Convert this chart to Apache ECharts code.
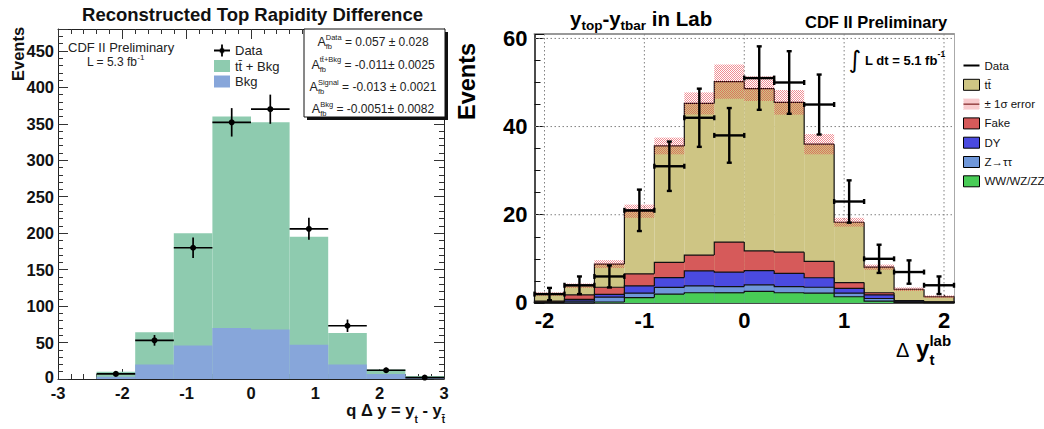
<!DOCTYPE html>
<html><head><meta charset="utf-8">
<script src="https://cdn.jsdelivr.net/npm/echarts@6/dist/echarts.min.js"></script>
<style>html,body{margin:0;padding:0;background:#fff}#c{width:1044px;height:429px}</style>
</head><body><div id="c"></div>
<script>
// ---------------- Left panel data ----------------
const leftEdges = [-2.4, -1.8, -1.2, -0.6, 0, 0.6, 1.2, 1.8, 2.4, 3.0];
const leftTotal = [10, 64, 200, 360, 352, 195, 63, 13, 4];      // tt + Bkg
const leftBkg   = [3, 20, 46, 70, 68, 47, 20, 7, 2];             // Bkg
const leftData  = [7, 53, 180, 352, 370, 206, 73, 12, 2];
const leftErr   = [2.6, 7.3, 14, 19.5, 20, 15, 8.5, 3.5, 1.4];
const leftYLabels = [0, 50, 100, 150, 200, 250, 300, 350, 400, 450];
const statNames = ['Data', 'tt\u0304+Bkg', 'Signal', 'Bkg'];
const statVals  = ['= 0.057 \u00b1 0.028', '= -0.011\u00b1 0.0025', '= -0.013 \u00b1 0.0021', '= -0.0051\u00b1 0.0082'];

// ---------------- Right panel data ----------------
const rightEdges = [-2.1, -1.8, -1.5, -1.2, -0.9, -0.6, -0.3, 0, 0.3, 0.6, 0.9, 1.2, 1.5, 1.8, 2.1];
const rightTT   = [1.6, 2.1, 5.25, 14.2, 26.4, 34.4, 36.4, 36.8, 34.0, 26.6, 13.7, 5.8, 2.6, 1.15];
const rightFake = [0.2, 1.0, 1.6, 2.75, 3.45, 3.6, 6.8, 4.5, 4.8, 3.7, 1.3, 0.5, 0.1, 0.05];
const rightDY   = [0.1, 0.4, 0.65, 1.65, 2.25, 3.4, 3.3, 3.2, 3.0, 2.15, 1.1, 0.8, 0.2, 0.1];
const rightZtt  = [0.1, 0.4, 1.1, 1.0, 1.5, 1.55, 1.4, 1.5, 1.4, 1.35, 0.8, 0.6, 0.1, 0.05];
const rightWW   = [0, 0, 0.2, 1.2, 2.0, 2.3, 2.3, 2.6, 2.3, 2.2, 1.4, 0.4, 0.1, 0.05];
const rightBand = [0.4, 0.5, 0.9, 1.5, 1.9, 2.5, 3.9, 2.8, 2.8, 2.3, 1.0, 0.6, 0.4, 0.3];
const rightData = [2, 4, 6, 21, 31, 42, 38, 51, 50, 45, 23, 10, 7, 4];
const rightDataErr = [1.4, 2.0, 2.5, 4.7, 5.6, 6.6, 6.2, 7.2, 7.1, 6.8, 4.8, 3.2, 2.65, 2.0];
const rightXTicks = [-2, -1, 0, 1, 2];
const rightYTicks = [0, 20, 40, 60];
const rightGridY  = [20, 40, 60];

// ---------------- styling ----------------
const FF = '"Liberation Sans", Arial, Helvetica, sans-serif';
const greenL = '#8ecbaf', blueL = '#87a6da';
const tanC = '#cec584', fakeC = '#d65a5a', dyC = '#4a4ae0', zttC = '#6f97d9', wwC = '#48cc56';

function mkCanvas(w, h, draw) { const c = document.createElement('canvas'); c.width = w; c.height = h; draw(c.getContext('2d')); return c.toDataURL(); }
const hatchURL = mkCanvas(2, 2, g => { g.fillStyle = 'rgba(228,50,60,0.55)'; g.fillRect(0, 0, 1, 1); g.fillRect(1, 1, 1, 1); });
const hatch = { image: hatchURL, repetition: 'repeat' };
const leftDataIcon = 'image://' + mkCanvas(16, 12, g => { g.strokeStyle = '#000'; g.lineWidth = 1.8; g.beginPath(); g.moveTo(0, 6); g.lineTo(16, 6); g.moveTo(8, 0); g.lineTo(8, 12); g.stroke(); g.beginPath(); g.arc(8, 6, 2.6, 0, 7); g.fillStyle = '#000'; g.fill(); });
const rightDataIcon = 'image://' + mkCanvas(16, 11, g => { g.fillStyle = '#000'; g.fillRect(0, 4.5, 16, 2); });
const bandIcon = 'image://' + mkCanvas(16, 11, g => { g.fillStyle = 'rgba(228,50,60,0.5)'; for (let x = 0; x < 16; x++) for (let y = 0; y < 11; y++) if ((x + y) % 2 === 0) g.fillRect(x, y, 1, 1); g.fillStyle = '#600'; g.fillRect(0, 5, 16, 1); });

// cumulative tops for the right stack (ROOT THStack style)
const cWW = rightWW.slice();
const cZtt = cWW.map((v, i) => v + rightZtt[i]);
const cDY = cZtt.map((v, i) => v + rightDY[i]);
const cFake = cDY.map((v, i) => v + rightFake[i]);
const cTot = cFake.map((v, i) => v + rightTT[i]);

function stepSeries(name, xi, yi, edges, tops, color, z, outline) {
  const data = tops.map((t, i) => [edges[i], edges[i + 1], 0, t, i > 0 ? tops[i - 1] : 0, i === tops.length - 1 ? 1 : 0]);
  return {
    type: 'custom', name, xAxisIndex: xi, yAxisIndex: yi, z, silent: true, itemStyle: { color },
    encode: { x: [0, 1], y: [2, 3] },
    renderItem(params, api) {
      const x0 = api.value(0), x1 = api.value(1), y0 = api.value(2), y1 = api.value(3), prev = api.value(4), last = api.value(5);
      const a = api.coord([x0, y1]), b = api.coord([x1, y0]);
      const ch = [{ type: 'rect', shape: { x: a[0], y: a[1], width: b[0] - a[0], height: b[1] - a[1] }, style: { fill: color } }];
      if (outline) {
        const p = api.coord([x0, prev]);
        const pts = [[a[0], p[1]], [a[0], a[1]], [b[0], a[1]]];
        if (last) pts.push([b[0], b[1]]);
        ch.push({ type: 'polyline', shape: { points: pts }, style: { fill: null, stroke: '#111', lineWidth: 1.2 } });
      }
      return { type: 'group', children: ch };
    },
    data
  };
}

function bandSeries(name, xi, yi, edges, center, err, z) {
  const data = center.map((c, i) => [edges[i], edges[i + 1], c - err[i], c + err[i]]);
  return {
    type: 'custom', name, xAxisIndex: xi, yAxisIndex: yi, z, silent: true, itemStyle: { color: '#f0a0a0' },
    encode: { x: [0, 1], y: [2, 3] },
    renderItem(params, api) {
      const a = api.coord([api.value(0), api.value(3)]), b = api.coord([api.value(1), api.value(2)]);
      return { type: 'rect', shape: { x: a[0], y: a[1], width: b[0] - a[0], height: b[1] - a[1] }, style: { fill: hatch } };
    },
    data
  };
}

function crossSeries(name, xi, yi, edges, vals, errs, o, z) {
  const data = vals.map((v, i) => [edges[i], edges[i + 1], v, errs[i]]);
  return {
    type: 'custom', name, xAxisIndex: xi, yAxisIndex: yi, z, silent: true, itemStyle: { color: '#000' },
    encode: { x: [0, 1], y: 2 },
    renderItem(params, api) {
      const x0 = api.value(0), x1 = api.value(1), v = api.value(2), e = api.value(3), xc = (x0 + x1) / 2;
      const L = api.coord([x0, v]), R = api.coord([x1, v]), T = api.coord([xc, v + e]), B = api.coord([xc, v - e]);
      const st = { stroke: '#000', lineWidth: o.lw, fill: null };
      const ch = [
        { type: 'line', shape: { x1: L[0], y1: L[1], x2: R[0], y2: R[1] }, style: st },
        { type: 'line', shape: { x1: T[0], y1: T[1], x2: B[0], y2: B[1] }, style: st }
      ];
      if (o.cap) {
        const c = o.cap;
        ch.push({ type: 'line', shape: { x1: L[0], y1: L[1] - c, x2: L[0], y2: L[1] + c }, style: st });
        ch.push({ type: 'line', shape: { x1: R[0], y1: R[1] - c, x2: R[0], y2: R[1] + c }, style: st });
        ch.push({ type: 'line', shape: { x1: T[0] - c, y1: T[1], x2: T[0] + c, y2: T[1] }, style: st });
        ch.push({ type: 'line', shape: { x1: B[0] - c, y1: B[1], x2: B[0] + c, y2: B[1] }, style: st });
      }
      if (o.dot) ch.push({ type: 'circle', shape: { cx: (L[0] + R[0]) / 2, cy: L[1], r: o.dot }, style: { fill: '#000' } });
      return { type: 'group', children: ch };
    },
    data
  };
}

function gridSeries(xi, yi, xs, ys, z) {
  const data = xs.map(v => [v, 0, 0]).concat(ys.map(v => [0, v, 1]));
  return {
    type: 'custom', name: 'grid', xAxisIndex: xi, yAxisIndex: yi, z, silent: true,
    encode: { x: 0, y: 1 },
    renderItem(params, api) {
      const cs = params.coordSys, p = api.coord([api.value(0), api.value(1)]);
      const st = { stroke: '#808080', lineWidth: 1, lineDash: [1.5, 2.5], fill: null };
      if (api.value(2) === 0) return { type: 'line', shape: { x1: p[0], y1: cs.y, x2: p[0], y2: cs.y + cs.height }, style: st };
      return { type: 'line', shape: { x1: cs.x, y1: p[1], x2: cs.x + cs.width, y2: p[1] }, style: st };
    },
    data
  };
}

// ---------------- text helpers ----------------
const mctx = document.createElement('canvas').getContext('2d');
function tw(t, s, w, fam) { mctx.font = (w || 'normal') + ' ' + s + 'px ' + (fam || FF); return mctx.measureText(t).width; }
function txt(x, y, t, s, w, o) {
  o = o || {};
  return { type: 'text', x, y, z: 20, silent: true, rotation: o.rot || 0,
    style: { text: t, fontSize: s, fontWeight: w || 'normal', fontFamily: o.fam || FF, fill: o.color || '#000', textAlign: o.align || 'left', textVerticalAlign: 'middle' } };
}
function run(x, y, parts, align) {
  const widths = parts.map(p => p.sup !== undefined ? Math.max(tw(p.sup, p.s, p.w, p.fam), tw(p.sub, p.s, p.w, p.fam)) : tw(p.t, p.s, p.w, p.fam));
  const total = widths.reduce((a, b) => a + b, 0) + parts.reduce((a, p) => a + (p.gap || 0), 0);
  let cx = align === 'right' ? x - total : align === 'center' ? x - total / 2 : x;
  const out = [];
  parts.forEach((p, i) => {
    const o = { fam: p.fam, color: p.color };
    if (p.sup !== undefined) { out.push(txt(cx, y + p.dySup, p.sup, p.s, p.w, o)); out.push(txt(cx, y + p.dySub, p.sub, p.s, p.w, o)); }
    else out.push(txt(cx, y + (p.dy || 0), p.t, p.s, p.w, o));
    cx += widths[i] + (p.gap || 0);
  });
  return out;
}

const graphics = [];
// left panel texts
graphics.push(txt(252.5, 14.5, 'Reconstructed Top Rapidity Difference', 18.5, 'bold', { align: 'center', color: '#111' }));
graphics.push(txt(17.5, 54, 'Events', 16.5, 'bold', { align: 'center', rot: Math.PI / 2, color: '#111' }));
graphics.push(txt(68, 47, 'CDF II Preliminary', 13, 'normal', { color: '#222' }));
graphics.push(...run(87, 62, [{ t: 'L = 5.3 fb', s: 12, color: '#222' }, { t: '-1', s: 8, dy: -5, color: '#222' }]));
graphics.push({ type: 'rect', z: 15, silent: true, shape: { x: 307, y: 32, width: 141, height: 88 }, style: { fill: '#111' } });
graphics.push({ type: 'rect', z: 16, silent: true, shape: { x: 304, y: 29, width: 141, height: 88 }, style: { fill: '#fff', stroke: '#111', lineWidth: 1 } });
const statY = [42, 64.5, 87, 109];
statNames.forEach((n, i) => {
  graphics.push(...run(373, statY[i], [
    { t: 'A', s: 12.5, color: '#222' },
    { sup: n, sub: 'fb', s: 7.5, dySup: -5, dySub: 4.5, color: '#222' },
    { t: ' ' + statVals[i], s: 12, color: '#222' }
  ], 'center'));
});
graphics.push(...run(445, 410, [
  { t: 'q \u0394 y = y', s: 16.5, w: 'bold', color: '#111' },
  { t: 't', s: 10, w: 'bold', dy: 9, color: '#111' },
  { t: ' - y', s: 16.5, w: 'bold', color: '#111' },
  { t: 't\u0304', s: 10, w: 'bold', dy: 9, color: '#111' }
], 'right'));
// right panel texts
graphics.push(...run(570, 18, [
  { t: 'y', s: 20.5, w: 'bold' }, { t: 'top', s: 13.5, w: 'bold', dy: 7 },
  { t: '-y', s: 20.5, w: 'bold' }, { t: 'tbar', s: 13.5, w: 'bold', dy: 7 },
  { t: ' in Lab', s: 20.5, w: 'bold' }
]));
graphics.push(txt(805, 21.5, 'CDF II Preliminary', 16.5, 'bold'));
graphics.push(txt(467, 81.5, 'Events', 23.5, 'bold', { align: 'center', rot: Math.PI / 2 }));
graphics.push(txt(855, 60, '\u222b', 24, 'normal', { fam: '"DejaVu Sans"', align: 'center' }));
graphics.push(...run(865, 60, [{ t: 'L dt = 5.1 fb', s: 13, w: 'bold' }, { t: '-1', s: 8.5, w: 'bold', dy: -6 }]));
graphics.push(...run(896, 350, [
  { t: '\u0394', s: 20, w: 'normal' }, { t: ' ', s: 24 },
  { t: 'y', s: 24, w: 'bold', dy: -1.4 },
  { sup: 'lab', sub: 't', s: 15, w: 'bold', dySup: -9.5, dySub: 9.4 }
]));

// ---------------- axes ----------------
const lineDark = { show: true, onZero: false, lineStyle: { color: '#222', width: 1 } };
const tickL = { show: true, inside: true, length: 10, lineStyle: { color: '#333' } };
const minorL = { show: true, splitNumber: 5, length: 5, lineStyle: { color: '#333' } };
const labL = { fontSize: 16.5, fontWeight: 'bold', fontFamily: FF, color: '#111' };

const option = {
  animation: false,
  textStyle: { fontFamily: FF },
  grid: [
    { left: 58, top: 29, width: 386, height: 350 },
    { left: 534.5, top: 34, width: 419.5, height: 268.9 }
  ],
  xAxis: [
    { gridIndex: 0, type: 'value', min: -3, max: 3, interval: 1, position: 'bottom', axisLine: lineDark, axisTick: tickL, minorTick: minorL,
      axisLabel: Object.assign({ margin: 5, showMinLabel: true, showMaxLabel: true }, labL), splitLine: { show: false } },
    { gridIndex: 0, type: 'value', min: -3, max: 3, interval: 1, position: 'top', axisLine: lineDark, axisTick: tickL, minorTick: minorL,
      axisLabel: { show: false }, splitLine: { show: false } },
    { gridIndex: 1, type: 'value', min: -2.1, max: 2.1, position: 'bottom',
      axisLine: { show: true, onZero: false, lineStyle: { color: '#111', width: 1.5 } },
      axisTick: { show: true, inside: true, length: 8, customValues: rightXTicks, lineStyle: { color: '#111' } },
      axisLabel: { customValues: rightXTicks, margin: 7, fontSize: 22, fontWeight: 'bold', fontFamily: FF, color: '#000' },
      splitLine: { show: false } },
    { gridIndex: 1, type: 'value', min: -2.1, max: 2.1, position: 'top',
      axisLine: { show: true, onZero: false, lineStyle: { color: '#999', width: 2 } }, axisTick: { show: false }, axisLabel: { show: false }, splitLine: { show: false } }
  ],
  yAxis: [
    { gridIndex: 0, type: 'value', min: 0, max: 480, interval: 50, position: 'left', axisLine: lineDark, axisTick: tickL, minorTick: minorL,
      axisLabel: Object.assign({ margin: 4, customValues: leftYLabels,
        formatter: v => (v === 0 ? '{z|0}' : String(v)),
        rich: { z: { fontSize: 16.5, fontWeight: 'bold', fontFamily: FF, color: '#111', padding: [0, 0, 5, 0] } } }, labL), splitLine: { show: false } },
    { gridIndex: 0, type: 'value', min: 0, max: 480, interval: 50, position: 'right', axisLine: lineDark, axisTick: tickL, minorTick: minorL,
      axisLabel: { show: false }, splitLine: { show: false } },
    { gridIndex: 1, type: 'value', min: 0, max: 61, interval: 20, position: 'left',
      axisLine: { show: true, onZero: false, lineStyle: { color: '#111', width: 1.5 } },
      axisTick: { show: true, inside: true, length: 10, lineStyle: { color: '#111' } },
      minorTick: { show: true, splitNumber: 4, length: 6, lineStyle: { color: '#111' } },
      axisLabel: { customValues: rightYTicks, margin: 7, fontSize: 22, fontWeight: 'bold', fontFamily: FF, color: '#000' },
      splitLine: { show: false } },
    { gridIndex: 1, type: 'value', min: 0, max: 61, position: 'right',
      axisLine: { show: true, onZero: false, lineStyle: { color: '#aaa', width: 1 } }, axisTick: { show: false }, axisLabel: { show: false }, splitLine: { show: false } }
  ],
  legend: [
    { left: 209, top: 39, orient: 'vertical', itemWidth: 16, itemHeight: 12, itemGap: 2.5, selectedMode: false,
      textStyle: { fontSize: 13, fontFamily: FF, color: '#222', lineHeight: 12 },
      data: [
        { name: 'Data ', icon: leftDataIcon },
        { name: 'tt\u0304 + Bkg', icon: 'rect', itemStyle: { color: greenL, borderWidth: 0 } },
        { name: 'Bkg', icon: 'rect', itemStyle: { color: blueL, borderWidth: 0 } }
      ] },
    { left: 958, top: 54.5, orient: 'vertical', itemWidth: 16, itemHeight: 11, itemGap: 7.3, selectedMode: false,
      textStyle: { fontSize: 11.5, fontFamily: FF, color: '#111', lineHeight: 11 },
      data: [
        { name: 'Data', icon: rightDataIcon },
        { name: 'tt\u0304', icon: 'rect', itemStyle: { color: tanC, borderColor: '#000', borderWidth: 1 } },
        { name: '\u00b1 1\u03c3 error', icon: bandIcon },
        { name: 'Fake', icon: 'rect', itemStyle: { color: fakeC, borderColor: '#000', borderWidth: 1 } },
        { name: 'DY', icon: 'rect', itemStyle: { color: dyC, borderColor: '#000', borderWidth: 1 } },
        { name: 'Z\u2192\u03c4\u03c4', icon: 'rect', itemStyle: { color: zttC, borderColor: '#000', borderWidth: 1 } },
        { name: 'WW/WZ/ZZ', icon: 'rect', itemStyle: { color: wwC, borderColor: '#000', borderWidth: 1 } }
      ] }
  ],
  graphic: graphics,
  series: [
    // left panel
    stepSeries('tt\u0304 + Bkg', 0, 0, leftEdges, leftTotal, greenL, 2, false),
    stepSeries('Bkg', 0, 0, leftEdges, leftBkg, blueL, 3, false),
    crossSeries('Data ', 0, 0, leftEdges, leftData, leftErr, { lw: 1.7, dot: 3 }, 4),
    // right panel
    gridSeries(2, 2, rightXTicks, rightGridY, 1),
    stepSeries('tt\u0304', 2, 2, rightEdges, cTot, tanC, 3, true),
    stepSeries('Fake', 2, 2, rightEdges, cFake, fakeC, 4, true),
    stepSeries('DY', 2, 2, rightEdges, cDY, dyC, 5, true),
    stepSeries('Z\u2192\u03c4\u03c4', 2, 2, rightEdges, cZtt, zttC, 6, true),
    stepSeries('WW/WZ/ZZ', 2, 2, rightEdges, cWW, wwC, 7, true),
    bandSeries('\u00b1 1\u03c3 error', 2, 2, rightEdges, cTot, rightBand, 8),
    crossSeries('Data', 2, 2, rightEdges, rightData, rightDataErr, { lw: 2.4, cap: 2.5 }, 9)
  ]
};

const chart = echarts.init(document.getElementById('c'), null, { renderer: 'svg', width: 1044, height: 429 });
chart.setOption(option);
</script>
</body></html>
